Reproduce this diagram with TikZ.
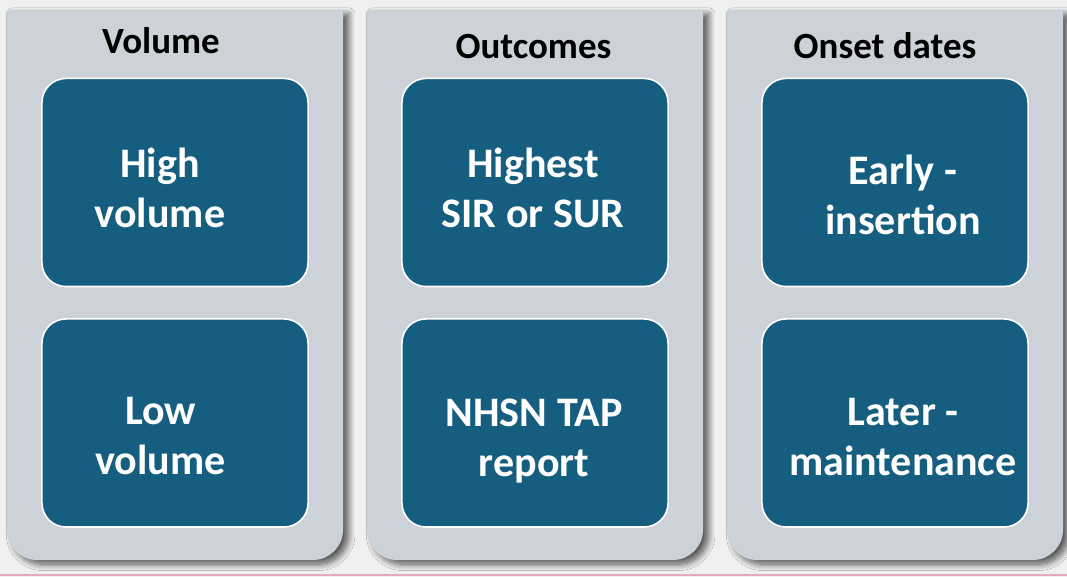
\documentclass[tikz,border=0pt]{standalone}
\usepackage{fontspec}
\setmainfont{Carlito}
\usepackage{tikz}
\usetikzlibrary{shadows.blur}
\definecolor{pagebg}{RGB}{240,240,241}
\definecolor{panelgray}{RGB}{205,209,216}
\definecolor{tealblue}{RGB}{22,94,128}
\definecolor{pinkline}{RGB}{226,170,186}

\begin{document}
\begin{tikzpicture}[x=0.025cm, y=0.025cm,
  panel/.style={fill=panelgray, blur shadow={shadow xshift=4pt, shadow yshift=-3pt, shadow blur radius=4.5pt, shadow blur steps=12, shadow opacity=65}},
  heading/.style={anchor=base, font=\fontsize{26.3}{31}\selectfont\bfseries},
  cell/.style={draw=white, line width=1.1pt, fill=tealblue, rounded corners=0.6cm, minimum width=6.65cm, minimum height=5.2cm},
  celltext/.style={text=white, align=center, font=\fontsize{29.9}{35.6}\selectfont\bfseries}]
  \useasboundingbox (0,0) rectangle (1067,577);
  \fill[pagebg] (0,0) rectangle (1067,577);
  \fill[pinkline] (0,0.5) rectangle (1067,2.5);

  % gray columns, square on top, rounded at the bottom
  \foreach \x in {7,367,727}
    \fill[panel] (\x,567) -- (\x+336,567) -- (\x+336,47) arc[start angle=0, end angle=-90, radius=30]
      -- (\x+30,17) arc[start angle=270, end angle=180, radius=30] -- cycle;

  \node[heading] (volume) at (161,523) {Volume};
  \node[heading] (outcomes) at (533.5,518) {Outcomes};
  \node[heading] (onset) at (885,518) {Onset dates};

  \node[cell] (highbox) at (175,394.5) {};
  \node[cell] (lowbox) at (175,154) {};
  \node[cell] (sirbox) at (535,394.5) {};
  \node[cell] (tapbox) at (535,154) {};
  \node[cell] (earlybox) at (895,394.5) {};
  \node[cell] (laterbox) at (895,154) {};

  \node[celltext] (high) at (160,389.5) {High\\volume};
  \node[celltext] (low) at (160.5,141) {Low\\volume};
  \node[celltext] (sir) at (533,389) {Highest\\SIR or SUR};
  \node[celltext] (tap) at (534,136) {NHSN TAP\\report};
  \node[celltext] (early) at (903,382.5) {Early -\\insertion};
  \node[celltext] (later) at (903,140) {Later -\\maintenance};
\end{tikzpicture}
\end{document}
